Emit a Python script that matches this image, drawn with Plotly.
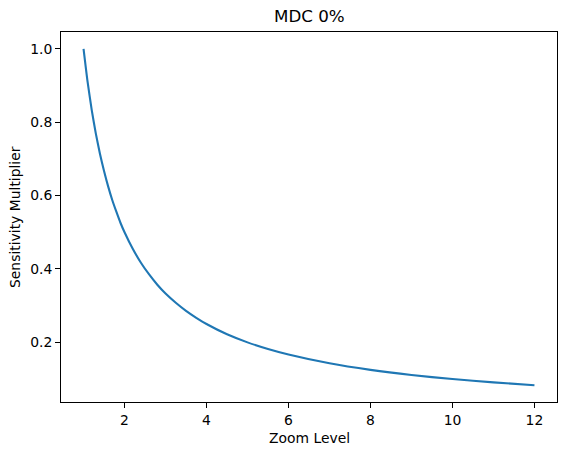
import plotly.graph_objects as go

# values
zoom_level = [1.0, 1.1, 1.2, 1.3, 1.4, 1.5, 1.6, 1.7, 1.8, 1.9, 2.0, 2.2, 2.4, 2.6,
              2.8, 3.0, 3.25, 3.5, 3.75, 4.0, 4.5, 5.0, 5.5, 6.0, 7.0, 8.0, 9.0,
              10.0, 11.0, 12.0]
sensitivity = [1.0, 0.909, 0.833, 0.769, 0.714, 0.667, 0.625, 0.588, 0.556, 0.526,
               0.5, 0.455, 0.417, 0.385, 0.357, 0.333, 0.308, 0.286, 0.267, 0.25,
               0.222, 0.2, 0.182, 0.167, 0.143, 0.125, 0.111, 0.1, 0.091, 0.083]
x_ticks = [2, 4, 6, 8, 10, 12]
y_ticks = [0.2, 0.4, 0.6, 0.8, 1.0]

font = "DejaVu Sans, Arial, sans-serif"

fig = go.Figure()
fig.add_trace(
    go.Scatter(
        x=zoom_level,
        y=sensitivity,
        mode="lines",
        line={"color": "#1f77b4", "width": 2.1, "shape": "spline", "smoothing": 0.6},
        showlegend=False,
    )
)

axis_style = dict(
    showgrid=False,
    zeroline=False,
    showline=True,
    linecolor="black",
    linewidth=1,
    mirror=True,
    ticks="outside",
    ticklen=5,
    tickwidth=1,
    tickcolor="black",
    tickfont={"family": font, "size": 13.9, "color": "black"},
)

fig.update_xaxes(range=[0.45, 12.55], tickvals=x_ticks, ticktext=[str(v) for v in x_ticks], **axis_style)
fig.update_yaxes(range=[0.0375, 1.0458], tickvals=y_ticks, ticktext=[f"{v:.1f}" for v in y_ticks], **axis_style)

fig.add_annotation(text="MDC 0%", x=0.5, y=1, xref="paper", yref="paper",
                   xanchor="center", yanchor="bottom", yshift=4, showarrow=False,
                   font={"family": font, "size": 16.7, "color": "black"})
fig.add_annotation(text="Zoom Level", x=0.5, y=0, xref="paper", yref="paper",
                   xanchor="center", yanchor="top", yshift=-26, showarrow=False,
                   font={"family": font, "size": 13.9, "color": "black"})
fig.add_annotation(text="Sensitivity Multiplier", x=0, y=0.5, xref="paper", yref="paper",
                   xanchor="right", yanchor="middle", xshift=-36, textangle=-90, showarrow=False,
                   font={"family": font, "size": 13.9, "color": "black"})

fig.update_layout(
    width=567,
    height=455,
    margin={"l": 61, "r": 10, "t": 32, "b": 53},
    plot_bgcolor="white",
    paper_bgcolor="white",
)

# page body has a default 8px margin; drop it so the figure sits at the window corner
fig.write_html(
    "out.html",
    config={"displayModeBar": False},
    post_script="document.body.style.margin = '0px';",
)
